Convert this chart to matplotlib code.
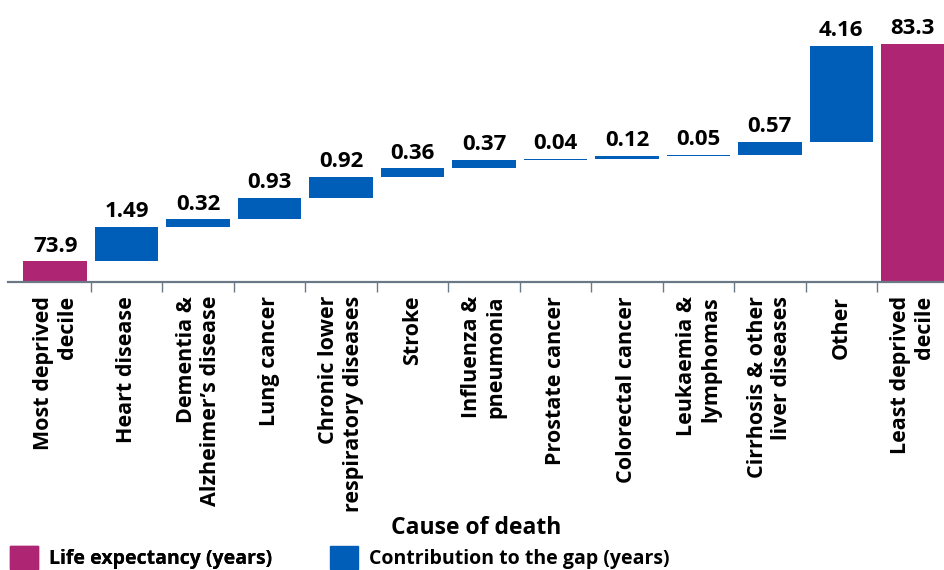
import matplotlib.pyplot as plt
from matplotlib.patches import Patch

# Datos
categorias = [
    "Most deprived\ndecile",
    "Heart disease",
    "Dementia &\nAlzheimer\u2019s disease",
    "Lung cancer",
    "Chronic lower\nrespiratory diseases",
    "Stroke",
    "Influenza &\npneumonia",
    "Prostate cancer",
    "Colorectal cancer",
    "Leukaemia &\nlymphomas",
    "Cirrhosis & other\nliver diseases",
    "Other",
    "Least deprived\ndecile",
]
esperanza_inicio = 73.9
esperanza_final = 83.3
contribuciones = [1.49, 0.32, 0.93, 0.92, 0.36, 0.37, 0.04, 0.12, 0.05, 0.57, 4.16]

magenta = "#AE2573"
azul = "#005EB8"
gris = "#6B7886"
base = 73.0

plt.rcParams["font.family"] = ["Open Sans", "DejaVu Sans"]

fig = plt.figure(figsize=(9.45, 5.7), dpi=100)
ax = fig.add_axes([8 / 945, 1 - 282 / 570, 1 - 8 / 945, 282 / 570])

ancho = 0.89
# Barra inicial
ax.bar(0, esperanza_inicio - base, bottom=base, width=ancho, color=magenta)
ax.text(0, esperanza_inicio + 0.2, f"{esperanza_inicio:.1f}", ha="center", va="bottom",
        fontsize=16, fontweight="bold", color="black")

# Barras de contribución
acumulado = esperanza_inicio
for i, c in enumerate(contribuciones, start=1):
    ax.bar(i, c, bottom=acumulado, width=ancho, color=azul)
    ax.text(i, acumulado + c + 0.2, f"{c:.2f}", ha="center", va="bottom",
            fontsize=16, fontweight="bold", color="black")
    acumulado += c

# Barra final
n = len(categorias) - 1
ax.bar(n, esperanza_final - base, bottom=base, width=ancho, color=magenta)
ax.text(n, esperanza_final + 0.2, f"{esperanza_final:.1f}", ha="center", va="bottom",
        fontsize=16, fontweight="bold", color="black")

ax.set_xlim(-0.66, n + 0.45)
ax.set_ylim(base, 85.2)

for s in ["top", "left", "right"]:
    ax.spines[s].set_visible(False)
ax.spines["bottom"].set_color(gris)
ax.spines["bottom"].set_linewidth(1.6)
ax.set_yticks([])

ax.set_xticks(range(len(categorias)))
ax.set_xticklabels(categorias, rotation=90, ha="center", va="top",
                   multialignment="right", fontsize=15.5, fontweight="bold")
ax.set_xticks([k + 0.5 for k in range(n)], minor=True)
ax.tick_params(axis="x", which="major", length=0, pad=10)
ax.tick_params(axis="x", which="minor", length=7, width=1, color=gris)

ax.set_xlabel("Cause of death", fontsize=16.5, fontweight="bold", labelpad=3)

# Leyenda
estilo = dict(loc="center left", frameon=False, borderpad=0, borderaxespad=0,
              handlelength=1.45, handleheight=1.45, handletextpad=0.55,
              prop={"size": 14, "weight": "bold"})
leg1 = fig.legend(handles=[Patch(color=magenta, label="Life expectancy (years)")],
                  bbox_to_anchor=(10 / 945, 0.022), **estilo)
leg2 = fig.legend(handles=[Patch(color=azul, label="Contribution to the gap (years)")],
                  bbox_to_anchor=(330 / 945, 0.022), **estilo)
fig.add_artist(leg1)

fig.savefig("out.png", dpi=100)
